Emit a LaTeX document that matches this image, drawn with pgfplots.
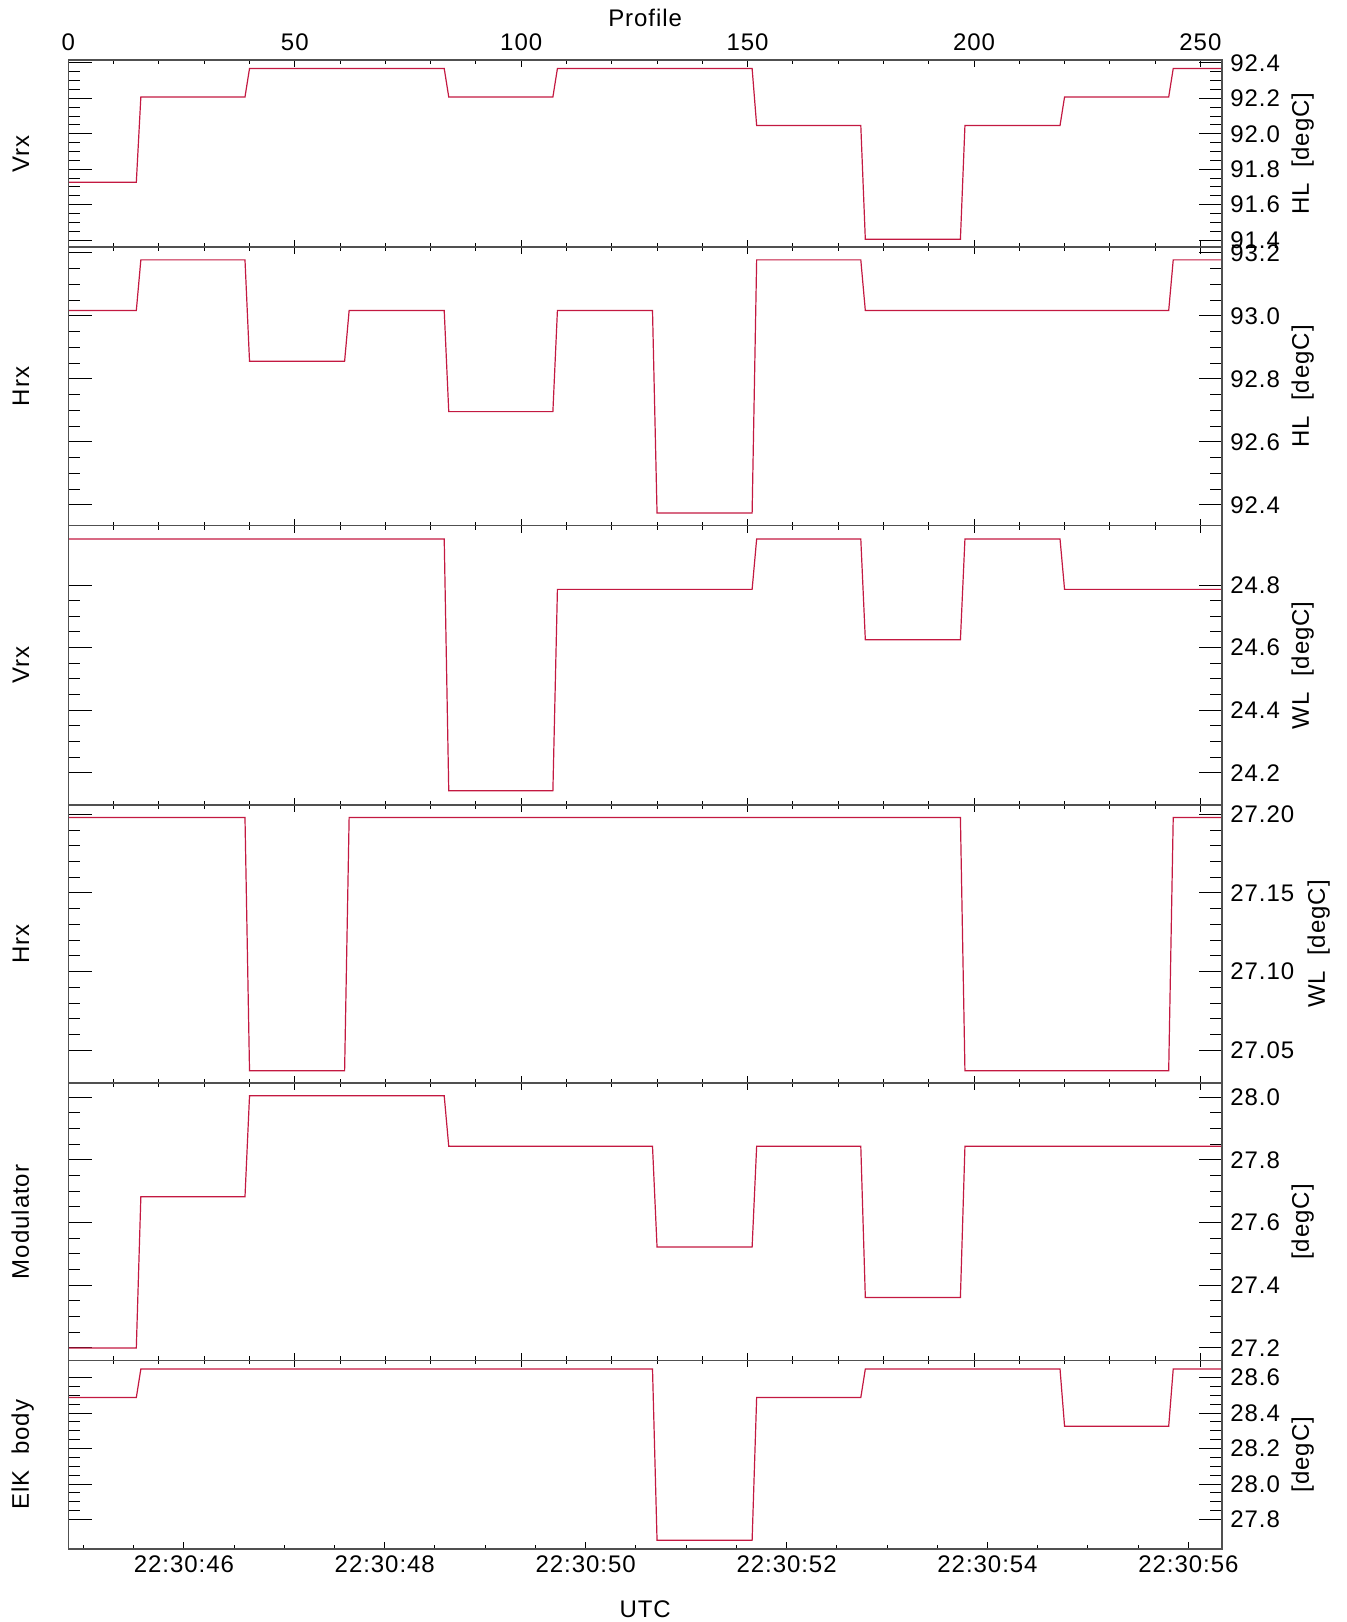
\documentclass[border=0pt]{standalone}
\usepackage{fontspec}
\setmainfont{Liberation Sans}[LetterSpace=4]
\usepackage{pgfplots}
\pgfplotsset{compat=1.18}
\definecolor{dline}{RGB}{195,25,65}
\definecolor{frm}{RGB}{80,80,80}
\newcommand{\fs}{\fontsize{12}{14}\selectfont}

\pgfplotsset{
  base/.style={scale only axis, width=576.75pt, xmin=0, xmax=254.75, anchor=south west,
     clip mode=individual,
     axis line style={draw=frm, line width=0.8pt},
     tick style={draw=black, line width=0.5pt}, tick align=inside},
  ymain/.style={base, xtick=\empty, ytick pos=both, yticklabel pos=right,
     major tick length=11.7pt, minor tick length=5.8pt,
     yticklabel style={font=\fs, anchor=west, inner sep=0pt, xshift=4pt,
        /pgf/number format/.cd, fixed, fixed zerofill, precision=1, assume math mode=true}},
  xprof/.style={base, ymin=0, ymax=1, ytick=\empty, xtick={0,50,...,250}, minor x tick num=4,
     xtick pos=both, xticklabels={}, major tick length=3.5pt, minor tick length=2pt},
  dl/.style={dline, line width=0.6pt, no markers},
}

\begin{document}
\begin{tikzpicture}
\path[use as bounding box] (0,0) rectangle (673pt,811pt);

% ---------- Panel 1 : HL Vrx
\begin{axis}[ymain, at={(34.2pt,687.35pt)}, height=93.65pt, ymin=91.359, ymax=92.417,
  ytick={91.4,91.6,91.8,92.0,92.2,92.4}, minor y tick num=3]
\addplot[dl] coordinates {(0,91.726)(15,91.726)(16,92.208)(39,92.208)(40,92.369)(83,92.369)(84,92.208)(107,92.208)(108,92.369)(151,92.369)(152,92.047)(175,92.047)(176,91.404)(197,91.404)(198,92.047)(219,92.047)(220,92.208)(243,92.208)(244,92.369)(255,92.369)};
\node[rotate=90,anchor=base,font=\fs] at ([xshift=-19.7pt]axis description cs:0,0.5) {Vrx};
\node[rotate=90,anchor=base,font=\fs] at ([xshift=43.5pt]axis description cs:1,0.5) {HL~~[degC]};
\end{axis}
\begin{axis}[xprof, at={(34.2pt,687.35pt)}, height=93.65pt, xticklabel pos=upper,
  xticklabels={0,50,100,150,200,250},
  xticklabel style={font=\fs, anchor=base, yshift=4.5pt}]
\node[anchor=base,font=\fs] at ([yshift=16.6pt]axis description cs:0.5,1) {Profile};
\end{axis}

% ---------- Panel 2 : HL Hrx
\begin{axis}[ymain, at={(34.2pt,548.2pt)}, height=139.15pt, ymin=92.334, ymax=93.218,
  ytick={92.4,92.6,92.8,93.0,93.2}, minor y tick num=3]
\addplot[dl] coordinates {(0,93.017)(15,93.017)(16,93.178)(39,93.178)(40,92.856)(61,92.856)(62,93.017)(83,93.017)(84,92.696)(107,92.696)(108,93.017)(129,93.017)(130,92.374)(151,92.374)(152,93.178)(175,93.178)(176,93.017)(243,93.017)(244,93.178)(255,93.178)};
\node[rotate=90,anchor=base,font=\fs] at ([xshift=-19.7pt]axis description cs:0,0.5) {Hrx};
\node[rotate=90,anchor=base,font=\fs] at ([xshift=43.5pt]axis description cs:1,0.5) {HL~~[degC]};
\end{axis}
\begin{axis}[xprof, at={(34.2pt,548.2pt)}, height=139.15pt]
\end{axis}

% ---------- Panel 3 : WL Vrx
\begin{axis}[ymain, at={(34.2pt,408.55pt)}, height=139.65pt, ymin=24.097, ymax=24.99,
  ytick={24.2,24.4,24.6,24.8}, minor y tick num=3]
\addplot[dl] coordinates {(0,24.947)(83,24.947)(84,24.142)(107,24.142)(108,24.786)(151,24.786)(152,24.947)(175,24.947)(176,24.625)(197,24.625)(198,24.947)(219,24.947)(220,24.786)(255,24.786)};
\node[rotate=90,anchor=base,font=\fs] at ([xshift=-19.7pt]axis description cs:0,0.5) {Vrx};
\node[rotate=90,anchor=base,font=\fs] at ([xshift=43.5pt]axis description cs:1,0.5) {WL~~[degC]};
\end{axis}
\begin{axis}[xprof, at={(34.2pt,408.55pt)}, height=139.65pt]
\end{axis}

% ---------- Panel 4 : WL Hrx
\begin{axis}[ymain, at={(34.2pt,269.35pt)}, height=139.2pt, ymin=27.029, ymax=27.206,
  ytick={27.05,27.10,27.15,27.20}, minor y tick num=4,
  yticklabel style={/pgf/number format/precision=2}]
\addplot[dl] coordinates {(0,27.198)(39,27.198)(40,27.037)(61,27.037)(62,27.198)(197,27.198)(198,27.037)(243,27.037)(244,27.198)(255,27.198)};
\node[rotate=90,anchor=base,font=\fs] at ([xshift=-19.7pt]axis description cs:0,0.5) {Hrx};
\node[rotate=90,anchor=base,font=\fs] at ([xshift=51.5pt]axis description cs:1,0.5) {WL~~[degC]};
\end{axis}
\begin{axis}[xprof, at={(34.2pt,269.35pt)}, height=139.2pt]
\end{axis}

% ---------- Panel 5 : Modulator
\begin{axis}[ymain, at={(34.2pt,130.75pt)}, height=138.6pt, ymin=27.16, ymax=28.044,
  ytick={27.2,27.4,27.6,27.8,28.0}, minor y tick num=3]
\addplot[dl] coordinates {(0,27.200)(15,27.200)(16,27.682)(39,27.682)(40,28.004)(83,28.004)(84,27.843)(129,27.843)(130,27.522)(151,27.522)(152,27.843)(175,27.843)(176,27.361)(197,27.361)(198,27.843)(255,27.843)};
\node[rotate=90,anchor=base,font=\fs] at ([xshift=-19.7pt]axis description cs:0,0.5) {Modulator};
\node[rotate=90,anchor=base,font=\fs] at ([xshift=43.5pt]axis description cs:1,0.5) {[degC]};
\end{axis}
\begin{axis}[xprof, at={(34.2pt,130.75pt)}, height=138.6pt]
\end{axis}

% ---------- Panel 6 : ElK body
\begin{axis}[ymain, at={(34.2pt,36.6pt)}, height=94.15pt, ymin=27.635, ymax=28.696,
  ytick={27.8,28.0,28.2,28.4,28.6}, minor y tick num=3]
\addplot[dl] coordinates {(0,28.487)(15,28.487)(16,28.648)(129,28.648)(130,27.683)(151,27.683)(152,28.487)(175,28.487)(176,28.648)(219,28.648)(220,28.326)(243,28.326)(244,28.648)(255,28.648)};
\node[rotate=90,anchor=base,font=\fs] at ([xshift=-19.7pt]axis description cs:0,0.5) {ElK~~body};
\node[rotate=90,anchor=base,font=\fs] at ([xshift=43.5pt]axis description cs:1,0.5) {[degC]};
\end{axis}
\begin{axis}[xprof, at={(34.2pt,36.6pt)}, height=94.15pt, xtick pos=upper]
\end{axis}
\begin{axis}[base, at={(34.2pt,36.6pt)}, height=94.15pt, ymin=0, ymax=1, ytick=\empty,
  xtick={25.5,69.87,114.24,158.61,202.98,247.35},
  xticklabels={22:30:46,22:30:48,22:30:50,22:30:52,22:30:54,22:30:56},
  minor xtick={3.32,14.41,36.59,47.69,58.78,80.96,92.06,103.15,125.33,136.43,147.52,169.70,180.79,191.89,214.07,225.17,236.26},
  xtick pos=lower, major tick length=3.5pt, minor tick length=2pt,
  xticklabel style={font=\fs, anchor=base, yshift=-12pt}]
\node[anchor=base,font=\fs] at ([yshift=-34.2pt]axis description cs:0.5,0) {UTC};
\end{axis}
\end{tikzpicture}
\end{document}
